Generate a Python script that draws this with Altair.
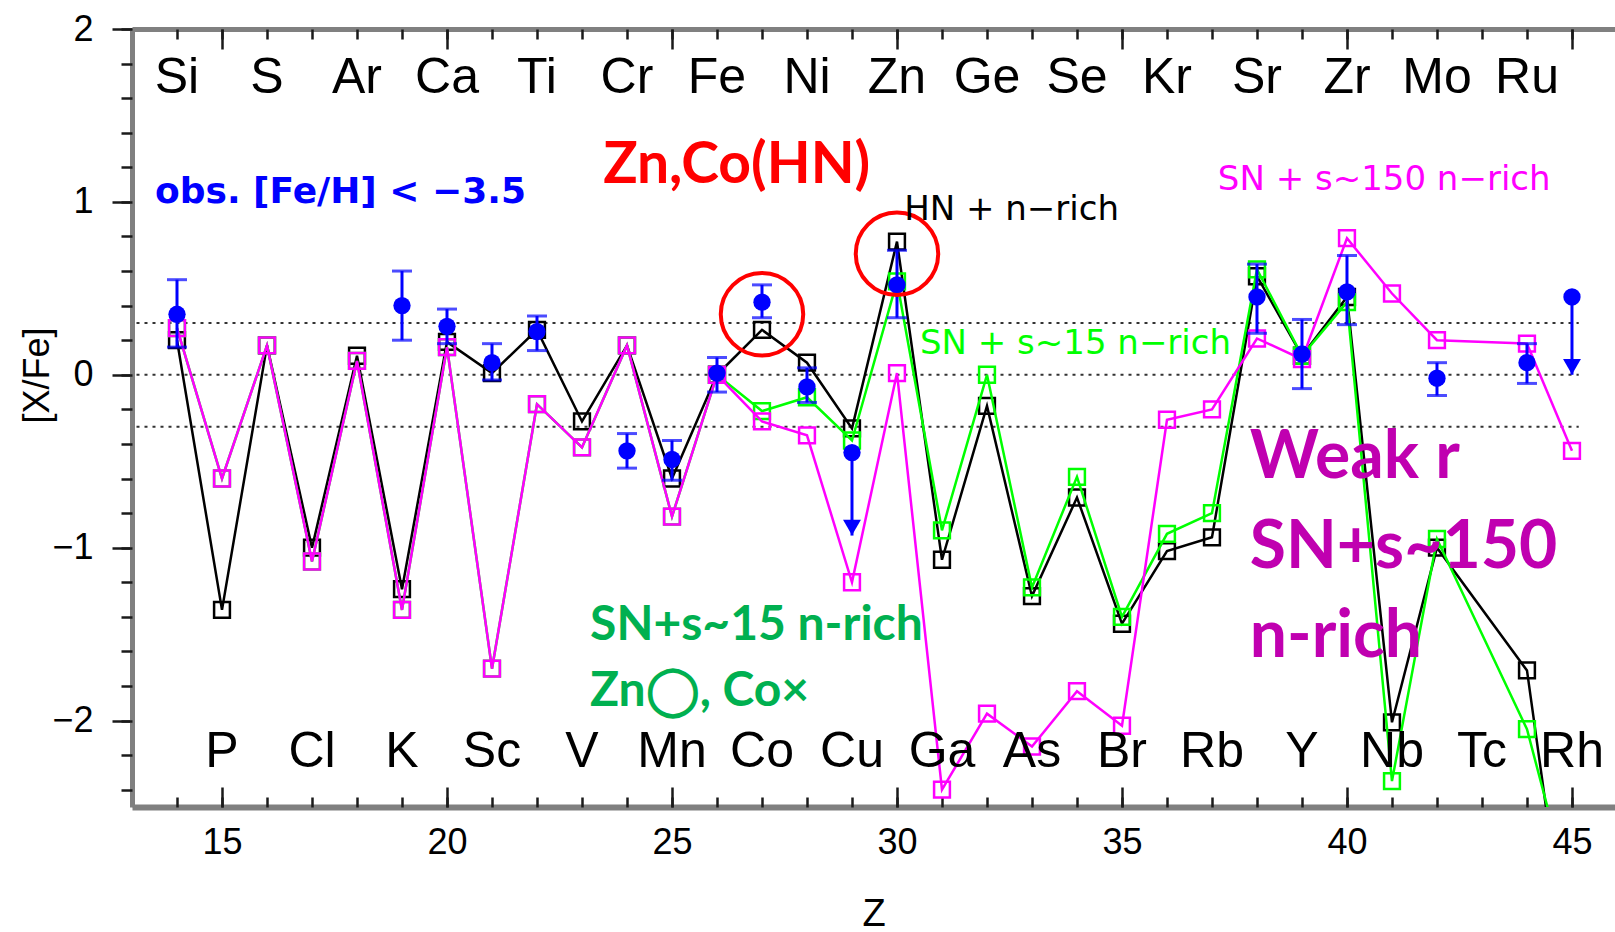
import altair as alt
import pandas as pd

# ---------------- data ----------------
Z = list(range(14, 46))
SYMBOLS = ["Si", "P", "S", "Cl", "Ar", "K", "Ca", "Sc", "Ti", "V", "Cr", "Mn", "Fe", "Co", "Ni", "Cu",
           "Zn", "Ga", "Ge", "As", "Se", "Br", "Kr", "Rb", "Sr", "Y", "Zr", "Nb", "Mo", "Tc", "Ru", "Rh"]

HN_NRICH = [0.20, -1.36, 0.17, -1.00, 0.11, -1.24, 0.19, 0.01, 0.26, -0.27, 0.17, -0.60, 0.00, 0.26, 0.07, -0.31,
            0.77, -1.07, -0.18, -1.28, -0.71, -1.44, -1.02, -0.94, 0.57, 0.11, 0.45, -2.01, -1.00, None, -1.71, -3.58]
SN_S15 = [0.27, -0.60, 0.17, -1.08, 0.08, -1.36, 0.16, -1.70, -0.17, -0.42, 0.17, -0.82, 0.00, -0.21, -0.13, -0.38,
          0.54, -0.90, 0.00, -1.23, -0.59, -1.40, -0.92, -0.80, 0.61, 0.11, 0.42, -2.35, -0.95, None, -2.05, -3.04]
SN_S150 = [0.27, -0.60, 0.17, -1.08, 0.08, -1.36, 0.16, -1.70, -0.17, -0.42, 0.17, -0.82, 0.00, -0.27, -0.35, -1.20,
           0.01, -2.40, -1.96, -2.15, -1.83, -2.03, -0.26, -0.20, 0.21, 0.09, 0.79, 0.47, 0.20, None, 0.18, -0.44]

OBS_Z = [14, 19, 20, 21, 22, 24, 25, 26, 27, 28, 29, 30, 38, 39, 40, 42, 44, 45]
OBS_VAL = [0.35, 0.40, 0.28, 0.07, 0.25, -0.44, -0.49, 0.01, 0.42, -0.07, -0.45, 0.52, 0.45, 0.12, 0.48, -0.02, 0.07, 0.45]
OBS_LO = [0.16, 0.20, 0.18, -0.03, 0.14, -0.54, -0.61, -0.10, 0.33, -0.16, None, 0.33, 0.24, -0.08, 0.29, -0.12, -0.05, None]
OBS_HI = [0.55, 0.60, 0.38, 0.18, 0.34, -0.34, -0.38, 0.10, 0.52, 0.04, None, 0.72, 0.64, 0.32, 0.69, 0.07, 0.18, None]

LIM_Z = [29, 45]
LIM_VAL = [-0.45, 0.45]
LIM_END = [-0.93, 0.00]

REF_LEVELS = [0.3, 0.0, -0.3]
CIRCLE_Z = [27, 30]
CIRCLE_V = [0.35, 0.70]

X_MAJOR = [15, 20, 25, 30, 35, 40, 45]
Y_MAJOR = [-2, -1, 0, 1, 2]
Y_MINOR = [round(-2.4 + 0.2 * i, 1) for i in range(23)]

# ---------------- styles ----------------
NARROW = "Liberation Sans Narrow, Liberation Sans"
FRAME = "#808080"
TICKC = "#1a1a1a"
xs = alt.Scale(domain=[13, 45.956], nice=False, zero=False)
ys = alt.Scale(domain=[-2.5, 2.0], nice=False, zero=False)


def tick_axis(orient, values, size):
    return alt.Axis(orient=orient, values=values, offset=-size, tickSize=size, ticks=True,
                    tickColor=TICKC, tickWidth=2.5, domain=False, labels=False, grid=False, title=None)


ax_bottom_main = alt.Axis(orient="bottom", values=X_MAJOR, grid=False, domain=True, domainColor=FRAME,
                          domainWidth=6, ticks=False, tickSize=0, labels=True, labelFont=NARROW,
                          labelFontSize=36, labelColor="black", labelPadding=18, labelFlush=False,
                          labelOverlap=False, title="Z", titleFont=NARROW, titleFontSize=38,
                          titleFontWeight="normal", titleColor="black", titleBaseline="alphabetic", titleY=118)
ax_top_main = alt.Axis(orient="top", grid=False, domain=True, domainColor=FRAME, domainWidth=5,
                       ticks=False, labels=False, title=None)
ax_left_main = alt.Axis(orient="left", values=Y_MAJOR, grid=False, domain=True, domainColor=FRAME,
                        domainWidth=5, ticks=True, tickSize=20, tickWidth=2.5, tickColor=TICKC,
                        labels=True, labelFont=NARROW, labelFontSize=36, labelColor="black",
                        labelPadding=19, labelFlush=False, labelOverlap=False,
                        title="[X/Fe]", titleFont=NARROW, titleFontSize=36, titleFontWeight="normal",
                        titleColor="black", titleAngle=270, titleX=-84, titleY=346,
                        titleBaseline="alphabetic", titleAlign="center")
ax_left_minor = alt.Axis(orient="left", values=Y_MINOR, grid=False, domain=False, ticks=True,
                         tickSize=11, tickWidth=2.5, tickColor=TICKC, labels=False, title=None)


def series_df(vals):
    return pd.DataFrame({"Z": Z, "v": vals}).dropna()


def line_layer(vals, color, xaxis, yaxis=None):
    return alt.Chart(series_df(vals)).mark_line(color=color, strokeWidth=2.5, clip=True).encode(
        x=alt.X("Z:Q", scale=xs, axis=xaxis), y=alt.Y("v:Q", scale=ys, axis=yaxis))


def square_layer(vals, color, xaxis, yaxis=None):
    return alt.Chart(series_df(vals)).mark_point(shape="square", filled=False, color=color, size=250,
                                                 strokeWidth=2.5, opacity=1, clip=True).encode(
        x=alt.X("Z:Q", scale=xs, axis=xaxis), y=alt.Y("v:Q", scale=ys, axis=yaxis))


ref = alt.Chart(pd.DataFrame({"v": REF_LEVELS})).mark_rule(strokeDash=[3, 5], color="#333333",
                                                            strokeWidth=2).encode(
    y=alt.Y("v:Q", scale=ys, axis=None),
    x=alt.XDatum(13.1, scale=xs, axis=None), x2=alt.X2Datum(45.15))

black_line = line_layer(HN_NRICH, "#000000", ax_bottom_main, ax_left_main)
black_pts = square_layer(HN_NRICH, "#000000", tick_axis("bottom", X_MAJOR, 20), ax_left_minor)
green_line = line_layer(SN_S15, "#00ff00", tick_axis("bottom", Z, 10))
green_pts = square_layer(SN_S15, "#00ff00", ax_top_main)
mag_line = line_layer(SN_S150, "#ff00ff", tick_axis("top", X_MAJOR, 20))
mag_pts = square_layer(SN_S150, "#ff00ff", tick_axis("top", Z, 10))

obs = pd.DataFrame({"Z": OBS_Z, "v": OBS_VAL, "lo": OBS_LO, "hi": OBS_HI})
bars = obs.dropna()
err_rule = alt.Chart(bars).mark_rule(color="#0000ff", strokeWidth=3).encode(
    x=alt.X("Z:Q", scale=xs, axis=None), y=alt.Y("lo:Q", scale=ys, axis=None), y2="hi:Q")
cap_lo = alt.Chart(bars).mark_tick(orient="horizontal", color="#0000ff", size=20, thickness=3).encode(
    x=alt.X("Z:Q", scale=xs, axis=None), y=alt.Y("lo:Q", scale=ys, axis=None))
cap_hi = alt.Chart(bars).mark_tick(orient="horizontal", color="#0000ff", size=20, thickness=3).encode(
    x=alt.X("Z:Q", scale=xs, axis=None), y=alt.Y("hi:Q", scale=ys, axis=None))
obs_pts = alt.Chart(obs).mark_circle(color="#0000ff", size=300, opacity=1).encode(
    x=alt.X("Z:Q", scale=xs, axis=None), y=alt.Y("v:Q", scale=ys, axis=None))

lim = pd.DataFrame({"Z": LIM_Z, "v": LIM_VAL, "end": LIM_END})
lim_rule = alt.Chart(lim).mark_rule(color="#0000ff", strokeWidth=3).encode(
    x=alt.X("Z:Q", scale=xs, axis=None), y=alt.Y("v:Q", scale=ys, axis=None), y2="end:Q")
lim_head = alt.Chart(lim).mark_point(shape="triangle-down", filled=True, color="#0000ff", size=320,
                                     opacity=1).encode(
    x=alt.X("Z:Q", scale=xs, axis=None), y=alt.Y("end:Q", scale=ys, axis=None), yOffset=alt.value(-8))

circles = alt.Chart(pd.DataFrame({"Z": CIRCLE_Z, "v": CIRCLE_V})).mark_point(
    shape="circle", filled=False, color="#ff0000", size=6800, strokeWidth=4, opacity=1).encode(
    x=alt.X("Z:Q", scale=xs, axis=None), y=alt.Y("v:Q", scale=ys, axis=None))

elements = alt.Chart(pd.DataFrame({"Z": Z, "sym": SYMBOLS})).transform_calculate(
    ypos="datum.Z % 2 == 0 ? 1.628 : -2.268").mark_text(
    font=NARROW, fontSize=50, color="black", baseline="alphabetic", align="center").encode(
    x=alt.X("Z:Q", scale=xs, axis=None), y=alt.Y("ypos:Q", scale=ys, axis=None), text="sym:N")


def note(text, z, v, color, size, font, weight="normal"):
    return alt.Chart(pd.DataFrame({"label": [text]})).mark_text(
        align="left", baseline="alphabetic", color=color, fontSize=size, font=font,
        fontWeight=weight).encode(
        x=alt.XDatum(z, scale=xs, axis=None), y=alt.YDatum(v, scale=ys, axis=None), text="label:N")


notes = [
    note("obs. [Fe/H] < \u22123.5", 13.51, 0.992, "#0000ff", 36, "DejaVu Sans", "bold"),
    note("HN + n\u2212rich", 30.16, 0.894, "#000000", 34, "DejaVu Sans"),
    note("SN + s~150 n\u2212rich", 37.13, 1.068, "#ff00ff", 34, "DejaVu Sans"),
    note("SN + s~15 n\u2212rich", 30.51, 0.119, "#00ff00", 34, "DejaVu Sans"),
    note("Zn,Co(HN)", 23.47, 1.108, "#ff0000", 57, "Lato", "bold"),
    note("SN+s~15 n-rich", 23.18, -1.533, "#00b050", 48, "Lato", "bold"),
    note("Zn\u25ef, Co\u00d7", 23.18, -1.915, "#00b050", 48, "Lato", "bold"),
    note("Weak r", 37.84, -0.597, "#c000b0", 66, "Lato", "bold"),
    note("SN+s~150", 37.84, -1.117, "#c000b0", 66, "Lato", "bold"),
    note("n-rich", 37.84, -1.632, "#c000b0", 66, "Lato", "bold"),
]

chart = alt.layer(
    ref, black_line, black_pts, green_line, green_pts, mag_line, mag_pts,
    err_rule, cap_lo, cap_hi, lim_rule, lim_head, obs_pts, circles, elements, *notes
).resolve_axis(x="independent", y="independent").properties(
    width=1483, height=778,
    autosize=alt.AutoSizeParams(type="none"),
    padding={"left": 132, "top": 29, "right": 0, "bottom": 125},
).configure_view(stroke=None).configure(background="white")

chart.save("out.html", embed_options={"renderer": "svg", "actions": False})
